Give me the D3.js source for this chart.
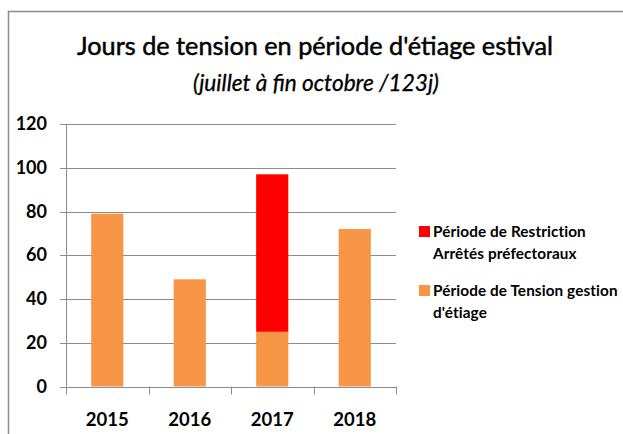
<!DOCTYPE html>
<html>
<head>
<meta charset="utf-8">
<script src="https://cdn.jsdelivr.net/npm/d3@7"></script>
<style>
    body { margin: 0; background: #fff; }
    text { font-family: Lato, "Open Sans", sans-serif; fill: #000; }
</style>
</head>
<body>
<script>
var years = ["2015", "2016", "2017", "2018"];
var tension = [79, 49, 25, 72];
var restriction = [0, 0, 72, 0];
var yTicks = [0, 20, 40, 60, 80, 100, 120];
var seriesNames = [
    ["Période de Restriction", "Arrêtés préfectoraux"],
    ["Période de Tension gestion", "d'étiage"]
];
var seriesColors = ["#ff0000", "#f79646"];

var svg = d3.select("body").append("svg")
    .attr("width", 623)
    .attr("height", 434);

// frame of the chart area
svg.append("path")
    .attr("d", "M8.5,434V11.5H623")
    .attr("fill", "none")
    .attr("stroke", "#8c8c8c")
    .attr("stroke-width", 1.5);

// fit a text to a width by changing its font size
function fitWidth(sel, w) {
    var size = parseFloat(sel.attr("font-size"));
    var len = sel.node().getComputedTextLength();
    sel.attr("font-size", (size * w / len).toFixed(2));
}

var title = svg.append("text")
    .attr("x", 315)
    .attr("y", 55)
    .attr("text-anchor", "middle")
    .attr("font-size", 24)
    .attr("stroke", "#000")
    .attr("stroke-width", 0.5)
    .text("Jours de tension en période d'étiage estival");
fitWidth(title, 476);

var subtitle = svg.append("text")
    .attr("x", 316)
    .attr("y", 91)
    .attr("text-anchor", "middle")
    .attr("font-size", 20)
    .attr("font-style", "italic")
    .attr("stroke", "#000")
    .attr("stroke-width", 0.3)
    .text("(juillet à fin octobre /123j)");
fitWidth(subtitle, 246);

var x = d3.scaleBand()
    .domain(years)
    .range([66, 396])
    .paddingInner(0.61)
    .paddingOuter(0.305);

var xTicks = d3.scalePoint()
    .domain(d3.range(years.length + 1))
    .range([66, 396]);

var y = d3.scaleLinear()
    .domain([0, 120])
    .range([386.5, 124]);

// gridlines
svg.append("g")
    .selectAll("line")
    .data(yTicks)
    .join("line")
    .attr("x1", 60)
    .attr("x2", 396)
    .attr("y1", function (d) { return Math.round(y(d)) + 0.5; })
    .attr("y2", function (d) { return Math.round(y(d)) + 0.5; })
    .attr("stroke", "#8c8c8c")
    .attr("stroke-width", 1);

// y axis line
svg.append("line")
    .attr("x1", 66.5).attr("x2", 66.5)
    .attr("y1", y(120)).attr("y2", y(0))
    .attr("stroke", "#8c8c8c");

// category tick marks
svg.append("g")
    .selectAll("line")
    .data(xTicks.domain())
    .join("line")
    .attr("x1", function (d) { return Math.round(xTicks(d)) + 0.5; })
    .attr("x2", function (d) { return Math.round(xTicks(d)) + 0.5; })
    .attr("y1", y(0))
    .attr("y2", y(0) + 8)
    .attr("stroke", "#8c8c8c");

// y labels
svg.append("g")
    .selectAll("text")
    .data(yTicks)
    .join("text")
    .attr("x", 47)
    .attr("y", function (d) { return y(d) + 6; })
    .attr("text-anchor", "end")
    .attr("font-size", 18)
    .attr("font-weight", "bold")
    .text(function (d) { return d; });

// x labels
svg.append("g")
    .selectAll("text")
    .data(years)
    .join("text")
    .attr("x", function (d) { return x(d) + x.bandwidth() / 2; })
    .attr("y", 426)
    .attr("text-anchor", "middle")
    .attr("font-size", 18.5)
    .attr("font-weight", "bold")
    .text(function (d) { return d; });

// stacked bars
var rows = years.map(function (d, i) {
    return { year: d, tension: tension[i], restriction: restriction[i] };
});
var stack = d3.stack().keys(["tension", "restriction"])(rows);
var colors = { tension: seriesColors[1], restriction: seriesColors[0] };

svg.append("g")
    .selectAll("g")
    .data(stack)
    .join("g")
    .attr("fill", function (s) { return colors[s.key]; })
    .selectAll("rect")
    .data(function (s) { return s; })
    .join("rect")
    .attr("x", function (d) { return x(d.data.year); })
    .attr("y", function (d) { return y(d[1]); })
    .attr("width", x.bandwidth())
    .attr("height", function (d) { return y(d[0]) - y(d[1]); });

// legend
var legend = svg.append("g")
    .selectAll("g")
    .data(seriesNames)
    .join("g")
    .attr("transform", function (d, i) { return "translate(419," + (226 + i * 59) + ")"; });

legend.append("rect")
    .attr("width", 11)
    .attr("height", 11)
    .attr("fill", function (d, i) { return seriesColors[i]; });

legend.each(function (lines) {
    var g = d3.select(this);
    lines.forEach(function (t, j) {
        g.append("text")
            .attr("x", 14)
            .attr("y", 11 + j * 22)
            .attr("font-size", 15.3)
            .attr("font-weight", "bold")
            .attr("letter-spacing", 0.1)
            .text(t);
    });
});
</script>
</body>
</html>
